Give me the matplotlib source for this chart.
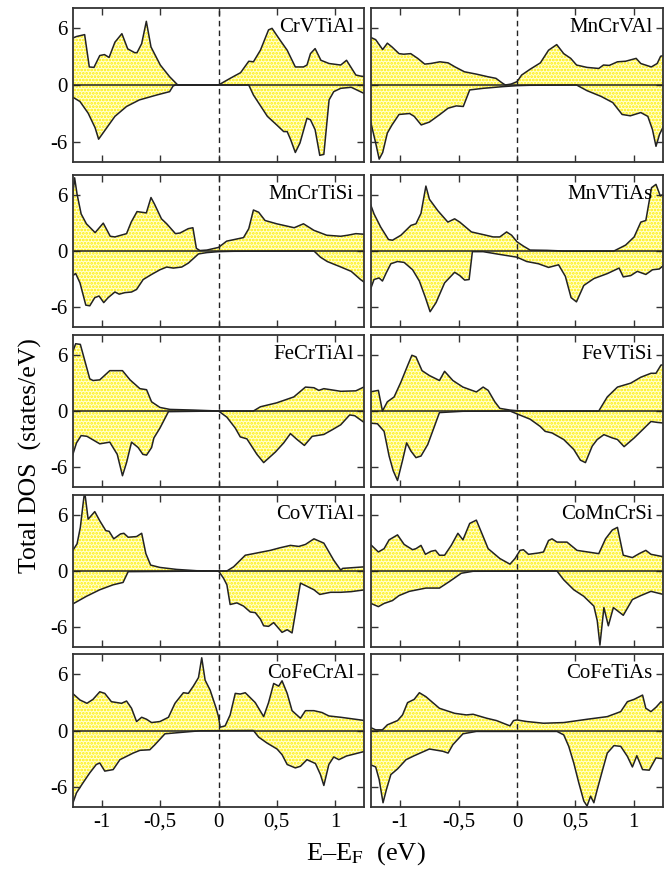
import matplotlib
matplotlib.use('Agg')
import matplotlib.pyplot as plt
import numpy as np

# spin-up / spin-down total DOS: (E-EF [eV], DOS [states/eV])
crvtial_up = [(-1.26, 4.9), (-1.22, 5.1), (-1.15, 5.3), (-1.11, 1.9), (-1.07, 1.85), (-1.02, 3.1),
              (-0.98, 3.2), (-0.94, 2.9), (-0.89, 4.5), (-0.83, 5.4), (-0.78, 3.8), (-0.72, 3.4),
              (-0.70, 3.4), (-0.66, 4.35), (-0.62, 6.7), (-0.58, 4.0), (-0.50, 2.1), (-0.42, 0.87),
              (-0.35, 0.0), (0.0, 0.0), (0.10, 0.7), (0.19, 1.3), (0.26, 2.5), (0.30, 2.44),
              (0.36, 3.66), (0.43, 5.8), (0.46, 5.96), (0.53, 4.7), (0.59, 3.66), (0.66, 1.9),
              (0.73, 1.9), (0.76, 2.1), (0.79, 3.3), (0.83, 3.83), (0.88, 2.6), (0.95, 2.26),
              (1.05, 2.1), (1.10, 2.6), (1.18, 1.05), (1.22, 0.94), (1.26, 0.87)]
crvtial_dn = [(-1.26, -1.22), (-1.19, -1.74), (-1.12, -2.96), (-1.06, -4.5), (-1.03, -5.7),
              (-0.96, -4.5), (-0.89, -3.3), (-0.79, -2.26), (-0.68, -1.57), (-0.53, -1.05),
              (-0.42, -0.7), (-0.39, -0.1), (-0.37, 0.0), (0.26, 0.0), (0.30, -1.05), (0.42, -3.3),
              (0.50, -4.2), (0.56, -4.9), (0.59, -4.9), (0.62, -5.75), (0.66, -7.1), (0.70, -6.1),
              (0.76, -3.5), (0.79, -3.66), (0.83, -4.7), (0.87, -7.4), (0.905, -7.3), (0.95, -1.57),
              (0.99, -0.7), (1.05, -0.35), (1.14, -0.24), (1.26, -0.94)]

mncrval_up = [(-1.26, 5.05), (-1.21, 4.77), (-1.15, 3.73), (-1.11, 4.4), (-1.07, 4.0), (-1.01, 3.3),
              (-0.97, 3.24), (-0.91, 3.3), (-0.85, 2.8), (-0.79, 2.2), (-0.74, 2.26), (-0.66, 2.44),
              (-0.59, 2.33), (-0.53, 1.9), (-0.45, 1.39), (-0.35, 1.15), (-0.25, 0.87), (-0.18, 0.7),
              (-0.13, 0.24), (-0.10, 0.0), (-0.05, 0.1), (0.0, 0.35), (0.04, 1.05), (0.11, 1.64),
              (0.20, 2.33), (0.27, 3.66), (0.34, 4.25), (0.40, 3.3), (0.46, 2.8), (0.51, 2.1),
              (0.60, 1.85), (0.70, 1.74), (0.74, 2.1), (0.79, 2.06), (0.86, 2.44), (0.93, 2.5),
              (1.02, 2.8), (1.06, 2.26), (1.15, 1.9), (1.20, 2.26), (1.23, 3.03), (1.26, 3.1)]
mncrval_dn = [(-1.26, -3.5), (-1.21, -6.1), (-1.18, -7.8), (-1.15, -7.1), (-1.11, -5.05),
              (-1.07, -4.2), (-1.01, -3.1), (-0.92, -3.0), (-0.88, -3.3), (-0.82, -4.2),
              (-0.75, -3.9), (-0.66, -3.1), (-0.59, -2.44), (-0.52, -2.2), (-0.46, -2.26),
              (-0.405, -0.52), (-0.29, -0.35), (-0.12, -0.17), (0.0, -0.07), (0.11, -0.03),
              (0.51, 0.0), (0.60, -0.6), (0.72, -1.2), (0.82, -1.85), (0.90, -3.1), (0.97, -3.24),
              (1.06, -2.9), (1.12, -3.3), (1.16, -4.7), (1.19, -6.45), (1.22, -5.2), (1.26, -4.2)]

mncrtisi_up = [(-1.26, 5.2), (-1.236, 7.8), (-1.215, 6.05), (-1.18, 3.95), (-1.135, 2.9),
               (-1.06, 1.96), (-0.99, 2.97), (-0.93, 1.57), (-0.89, 1.5), (-0.79, 1.85),
               (-0.75, 3.08), (-0.70, 4.2), (-0.62, 4.06), (-0.58, 5.7), (-0.55, 5.0), (-0.49, 3.43),
               (-0.445, 2.9), (-0.37, 1.85), (-0.33, 1.92), (-0.26, 2.38), (-0.22, 2.48),
               (-0.19, 0.28), (-0.16, 0.05), (-0.10, 0.1), (0.0, 0.38), (0.07, 1.05), (0.215, 1.43),
               (0.26, 2.38), (0.30, 4.37), (0.345, 4.13), (0.40, 3.25), (0.50, 2.9), (0.65, 2.48),
               (0.73, 2.9), (0.82, 2.2), (0.93, 1.68), (1.05, 1.57), (1.11, 1.68), (1.18, 1.85),
               (1.26, 1.78)]
mncrtisi_dn = [(-1.26, -2.7), (-1.227, -2.4), (-1.19, -3.4), (-1.14, -5.77), (-1.106, -5.84),
               (-1.063, -4.97), (-1.026, -4.8), (-0.986, -5.5), (-0.948, -4.97), (-0.89, -4.37),
               (-0.853, -4.6), (-0.805, -4.44), (-0.747, -4.37), (-0.704, -4.1), (-0.647, -3.04),
               (-0.575, -2.5), (-0.503, -2.0), (-0.445, -1.71), (-0.388, -1.82), (-0.316, -1.71),
               (-0.259, -1.29), (-0.172, -0.31), (-0.10, -0.17), (0.0, -0.07), (0.13, -0.03),
               (0.82, 0.0), (0.876, -0.66), (0.934, -1.12), (1.05, -1.7), (1.14, -2.17),
               (1.22, -3.04), (1.26, -3.4)]

mnvtias_up = [(-1.26, 5.17), (-1.224, 3.95), (-1.167, 2.55), (-1.10, 1.22), (-1.066, 1.15),
              (-0.994, 1.68), (-0.908, 2.73), (-0.865, 2.9), (-0.822, 4.02), (-0.78, 6.92),
              (-0.75, 5.52), (-0.678, 4.3), (-0.592, 3.08), (-0.534, 3.43), (-0.49, 3.08),
              (-0.39, 2.03), (-0.29, 1.75), (-0.204, 1.5), (-0.147, 1.5), (-0.089, 2.03),
              (-0.046, 1.68), (0.0, 0.98), (0.055, 0.52), (0.112, 0.1), (0.256, 0.07), (0.40, 0.0),
              (0.83, 0.0), (0.93, 0.63), (1.003, 1.5), (1.06, 3.08), (1.103, 3.25), (1.152, 6.75),
              (1.19, 7.1), (1.227, 5.87), (1.26, 6.1)]
mnvtias_dn = [(-1.26, -4.27), (-1.224, -3.04), (-1.181, -2.87), (-1.152, -3.2), (-1.12, -2.34),
              (-1.08, -1.36), (-1.023, -1.12), (-0.966, -1.22), (-0.894, -2.0), (-0.836, -3.2),
              (-0.784, -4.97), (-0.744, -6.47), (-0.693, -5.5), (-0.62, -3.4), (-0.534, -2.27),
              (-0.49, -2.62), (-0.448, -3.1), (-0.41, -3.04), (-0.382, -0.07), (-0.29, -0.07),
              (-0.175, -0.31), (0.0, -0.66), (0.083, -1.12), (0.184, -1.36), (0.27, -1.75),
              (0.356, -1.47), (0.414, -2.7), (0.463, -4.97), (0.509, -5.42), (0.572, -3.67),
              (0.658, -2.94), (0.773, -2.41), (0.874, -1.82), (0.91, -2.76), (0.974, -2.62),
              (1.03, -2.17), (1.103, -2.5), (1.16, -2.0), (1.218, -1.92), (1.26, -1.47)]

fecrtial_up = [(-1.26, 6.05), (-1.227, 7.17), (-1.187, 7.1), (-1.106, 3.43), (-1.078, 3.25),
               (-1.02, 3.32), (-0.934, 4.3), (-0.825, 4.3), (-0.76, 3.32), (-0.675, 2.38),
               (-0.618, 2.27), (-0.575, 0.98), (-0.503, 0.38), (-0.417, 0.17), (-0.216, 0.1),
               (0.0, 0.0), (0.30, 0.0), (0.36, 0.45), (0.50, 0.87), (0.647, 1.5), (0.747, 2.55),
               (0.82, 2.48), (0.862, 2.2), (0.905, 2.38), (0.963, 2.27), (1.05, 2.1), (1.18, 2.15),
               (1.26, 2.62)]
fecrtial_dn = [(-1.26, -4.97), (-1.22, -3.4), (-1.18, -2.62), (-1.13, -2.7), (-1.02, -3.5),
               (-0.934, -3.32), (-0.87, -4.62), (-0.825, -6.9), (-0.79, -5.5), (-0.747, -3.32),
               (-0.69, -3.9), (-0.65, -4.62), (-0.618, -4.7), (-0.575, -3.9), (-0.555, -2.87),
               (-0.503, -1.82), (-0.43, -0.07), (0.0, 0.0), (0.072, -0.66), (0.144, -1.82),
               (0.187, -2.76), (0.244, -2.97), (0.33, -4.62), (0.388, -5.5), (0.489, -4.37),
               (0.56, -3.4), (0.618, -2.41), (0.675, -3.04), (0.738, -3.67), (0.805, -2.7),
               (0.905, -2.5), (0.977, -2.0), (1.05, -1.47), (1.127, -0.42), (1.17, -0.5),
               (1.26, -1.3)]

fevtisi_up = [(-1.26, 2.03), (-1.187, 2.2), (-1.152, 0.0), (-1.11, 0.98), (-1.052, 1.5),
              (-0.994, 3.08), (-0.937, 4.83), (-0.90, 5.94), (-0.865, 5.77), (-0.813, 4.3),
              (-0.75, 3.78), (-0.664, 3.25), (-0.62, 4.23), (-0.549, 3.25), (-0.463, 2.55),
              (-0.348, 2.03), (-0.29, 2.55), (-0.247, 2.2), (-0.19, 0.98), (-0.147, 0.28),
              (-0.06, 0.1), (0.0, 0.03), (0.14, 0.0), (0.70, 0.0), (0.773, 1.5), (0.86, 2.55),
              (0.974, 2.97), (1.06, 3.6), (1.147, 4.02), (1.19, 4.02), (1.233, 4.9), (1.26, 4.9)]
fevtisi_dn = [(-1.26, -1.29), (-1.195, -1.36), (-1.138, -2.17), (-1.095, -4.8), (-1.06, -6.36),
              (-1.023, -7.41), (-0.98, -5.27), (-0.945, -3.4), (-0.908, -4.27), (-0.865, -4.97),
              (-0.822, -4.8), (-0.764, -3.57), (-0.707, -1.64), (-0.664, -0.17), (-0.463, -0.03),
              (-0.06, 0.0), (0.0, -0.31), (0.112, -0.87), (0.198, -1.64), (0.241, -2.17),
              (0.30, -2.34), (0.40, -3.04), (0.486, -4.1), (0.543, -5.24), (0.586, -5.5),
              (0.644, -3.74), (0.687, -3.04), (0.744, -2.52), (0.816, -2.87), (0.86, -3.04),
              (0.917, -3.8), (1.003, -2.87), (1.075, -2.0), (1.147, -1.12), (1.204, -1.22),
              (1.26, -1.29)]

covtial_up = [(-1.26, 2.03), (-1.215, 2.9), (-1.187, 4.65), (-1.164, 7.1), (-1.15, 8.5),
              (-1.12, 5.52), (-1.063, 6.33), (-1.02, 5.35), (-0.968, 4.3), (-0.94, 4.23),
              (-0.90, 3.43), (-0.842, 3.95), (-0.813, 4.02), (-0.776, 3.6), (-0.704, 3.67),
              (-0.66, 4.02), (-0.624, 1.85), (-0.583, 0.63), (-0.503, 0.38), (-0.36, 0.17),
              (-0.187, 0.03), (0.0, 0.0), (0.072, 0.0), (0.13, 0.45), (0.23, 1.68), (0.33, 1.92),
              (0.445, 2.2), (0.53, 2.48), (0.618, 2.73), (0.69, 2.62), (0.747, 2.83), (0.82, 3.43),
              (0.905, 2.97), (0.99, 1.15), (1.05, 0.1), (1.067, 0.28), (1.26, 0.45)]
covtial_dn = [(-1.26, -3.57), (-1.135, -2.7), (-1.02, -2.0), (-0.905, -1.47), (-0.82, -1.22),
              (-0.776, -0.07), (0.0, 0.0), (0.043, -0.77), (0.072, -1.47), (0.10, -3.57),
              (0.158, -3.4), (0.215, -3.74), (0.273, -4.37), (0.316, -4.44), (0.36, -5.13),
              (0.388, -5.84), (0.43, -5.9), (0.474, -5.5), (0.546, -6.54), (0.59, -6.26),
              (0.632, -6.6), (0.704, -1.29), (0.82, -2.0), (0.87, -2.5), (0.963, -2.27),
              (1.05, -2.27), (1.14, -2.2), (1.26, -2.0)]

comncrsi_up = [(-1.26, 2.9), (-1.187, 2.03), (-1.138, 2.38), (-1.095, 3.32), (-1.023, 3.85),
               (-0.966, 2.83), (-0.894, 2.27), (-0.865, 2.38), (-0.822, 2.73), (-0.784, 1.78),
               (-0.736, 2.1), (-0.698, 2.2), (-0.664, 1.68), (-0.62, 1.68), (-0.563, 2.73),
               (-0.506, 4.02), (-0.463, 3.32), (-0.405, 5.07), (-0.348, 5.42), (-0.305, 4.13),
               (-0.247, 2.38), (-0.147, 1.33), (-0.06, 0.73), (-0.017, 1.33), (0.026, 2.2),
               (0.055, 2.27), (0.098, 1.78), (0.184, 1.92), (0.227, 2.03), (0.27, 3.25),
               (0.30, 3.43), (0.342, 3.08), (0.428, 3.08), (0.514, 2.2), (0.70, 1.85),
               (0.758, 3.43), (0.816, 4.37), (0.86, 4.65), (0.91, 1.68), (0.988, 1.43),
               (1.046, 1.85), (1.103, 2.2), (1.147, 1.78), (1.26, 1.5)]
comncrsi_dn = [(-1.26, -3.4), (-1.187, -3.8), (-1.138, -3.46), (-1.066, -3.15), (-1.01, -2.62),
               (-0.922, -2.17), (-0.78, -1.82), (-0.664, -1.82), (-0.578, -1.12), (-0.477, -0.24),
               (-0.376, -0.03), (0.342, 0.0), (0.40, -0.94), (0.486, -2.0), (0.572, -2.7),
               (0.658, -3.74), (0.687, -5.3), (0.71, -7.9), (0.744, -3.9), (0.782, -5.84),
               (0.825, -3.9), (0.91, -4.72), (0.988, -3.04), (1.06, -2.62), (1.147, -2.17),
               (1.26, -2.52)]

cofecral_up = [(-1.26, 4.0), (-1.19, 3.23), (-1.13, 2.88), (-1.078, 3.3), (-1.02, 4.1),
               (-0.977, 3.93), (-0.92, 3.05), (-0.833, 2.88), (-0.79, 3.12), (-0.747, 2.35),
               (-0.704, 0.95), (-0.66, 1.4), (-0.618, 1.19), (-0.575, 0.84), (-0.503, 0.95),
               (-0.43, 1.4), (-0.374, 2.88), (-0.302, 4.0), (-0.259, 3.93), (-0.216, 4.7),
               (-0.172, 5.6), (-0.144, 7.7), (-0.115, 5.33), (-0.072, 4.28), (-0.02, 2.35),
               (0.0, 1.47), (0.014, 0.35), (0.057, 0.49), (0.10, 1.65), (0.144, 3.93),
               (0.187, 3.86), (0.23, 4.0), (0.316, 2.95), (0.388, 1.47), (0.43, 2.95),
               (0.474, 4.98), (0.517, 4.7), (0.546, 5.26), (0.59, 3.93), (0.632, 2.1),
               (0.704, 1.3), (0.747, 2.1), (0.82, 2.1), (0.89, 1.9), (0.948, 1.54), (1.05, 1.4),
               (1.26, 1.05)]
cofecral_dn = [(-1.26, -8.0), (-1.22, -6.6), (-1.164, -5.54), (-1.106, -4.49), (-1.05, -3.6),
               (-1.02, -3.44), (-0.977, -4.3), (-0.905, -4.14), (-0.847, -3.09), (-0.733, -2.39),
               (-0.675, -2.1), (-0.59, -2.04), (-0.546, -1.5), (-0.46, -0.35), (-0.33, -0.21),
               (-0.158, -0.03), (0.30, 0.0), (0.345, -0.7), (0.417, -1.33), (0.503, -1.96),
               (0.546, -2.56), (0.59, -3.6), (0.66, -3.96), (0.704, -3.79), (0.76, -3.09),
               (0.833, -3.5), (0.876, -4.67), (0.905, -5.82), (0.948, -3.6), (0.99, -2.8),
               (1.034, -3.09), (1.10, -2.7), (1.26, -2.2)]

cofetias_up = [(-1.26, 0.35), (-1.21, 0.07), (-1.152, 0.07), (-1.11, 0.6), (-1.023, 1.05),
               (-0.98, 1.65), (-0.937, 2.95), (-0.88, 3.3), (-0.836, 4.0), (-0.78, 3.58),
               (-0.664, 2.35), (-0.534, 1.82), (-0.434, 1.65), (-0.376, 1.72), (-0.26, 1.3),
               (-0.175, 1.05), (-0.118, 0.77), (-0.06, 0.49), (-0.03, 1.05), (0.0, 1.12),
               (0.083, 0.95), (0.227, 0.77), (0.40, 0.84), (0.60, 1.19), (0.773, 1.47),
               (0.888, 2.0), (0.945, 3.05), (1.003, 3.3), (1.075, 3.75), (1.103, 2.35),
               (1.147, 2.0), (1.19, 2.46), (1.233, 3.05), (1.26, 2.8)]
cofetias_dn = [(-1.26, -3.6), (-1.21, -3.86), (-1.18, -5.2), (-1.147, -7.65), (-1.118, -6.25),
               (-1.08, -4.67), (-1.023, -4.07), (-0.95, -3.09), (-0.88, -2.67), (-0.75, -1.96),
               (-0.635, -2.2), (-0.59, -2.39), (-0.549, -1.5), (-0.463, -0.35), (-0.348, -0.1),
               (0.342, -0.1), (0.40, -0.46), (0.443, -1.68), (0.486, -3.44), (0.529, -5.54),
               (0.572, -7.47), (0.60, -8.0), (0.63, -6.95), (0.658, -7.65), (0.687, -6.25),
               (0.73, -4.3), (0.773, -2.39), (0.83, -1.6), (0.888, -1.68), (0.945, -2.74),
               (0.988, -3.86), (1.026, -2.67), (1.075, -4.14), (1.132, -4.2), (1.19, -2.9),
               (1.26, -3.0)]

names = ['CrVTiAl', 'MnCrVAl', 'MnCrTiSi', 'MnVTiAs', 'FeCrTiAl',
         'FeVTiSi', 'CoVTiAl', 'CoMnCrSi', 'CoFeCrAl', 'CoFeTiAs']
ups = [crvtial_up, mncrval_up, mncrtisi_up, mnvtias_up, fecrtial_up,
       fevtisi_up, covtial_up, comncrsi_up, cofecral_up, cofetias_up]
dns = [crvtial_dn, mncrval_dn, mncrtisi_dn, mnvtias_dn, fecrtial_dn,
       fevtisi_dn, covtial_dn, comncrsi_dn, cofecral_dn, cofetias_dn]

xticks = [-1, -0.5, 0, 0.5, 1]
xticklabels = ['-1', '-0,5', '0', '0,5', '1']
yticks = [-6, 0, 6]
yticklabels = ['-6', '0', '6']

plt.rcParams['font.family'] = ['Liberation Serif', 'DejaVu Serif']
plt.rcParams['mathtext.fontset'] = 'stix'
plt.rcParams['hatch.linewidth'] = 1.3
plt.rcParams['hatch.color'] = '#ffee00'

W, H = 667, 873
fig = plt.figure(figsize=(W / 100, H / 100), dpi=100)

col_left = [73, 371]
col_w = [291, 292]
row_top = [8, 175, 335, 495, 654]
row_bot = [162, 327, 487, 647, 807]

for k, name in enumerate(names):
    r, c = divmod(k, 2)
    ax = fig.add_axes([col_left[c] / W, 1 - row_bot[r] / H,
                       col_w[c] / W, (row_bot[r] - row_top[r]) / H])
    for data in (ups[k], dns[k]):
        d = np.array(data)
        ax.fill_between(d[:, 0], 0, d[:, 1], facecolor='#ffffd2', hatch='.....',
                        edgecolor='#ffee00', linewidth=0)
        ax.plot(d[:, 0], d[:, 1], color='#222222', lw=1.1)
    ax.axhline(0, color='#222222', lw=1.1)
    ax.axvline(0, color='#222222', lw=1.0, ls=(0, (4, 3)))
    ax.set_xlim(-1.25, 1.25)
    ax.set_ylim(-8.1, 8.1)
    ax.set_xticks(xticks)
    ax.set_yticks(yticks)
    ax.tick_params(direction='in', top=True, right=True, length=5, width=1,
                   color='#333333', labelsize=15, pad=4)
    if c == 0:
        ax.set_yticklabels(yticklabels)
    else:
        ax.set_yticklabels([])
    if r == 4:
        ax.set_xticklabels(xticklabels)
    else:
        ax.set_xticklabels([])
    for s in ax.spines.values():
        s.set_color('#333333')
        s.set_linewidth(1.3)
    ax.text(0.965, 6.0, name, transform=ax.get_yaxis_transform(),
            ha='right', va='center', fontsize=15)

fig.text(0.045, 0.478, 'Total DOS  (states/eV)', rotation=90, ha='center', va='center',
         fontsize=18.5)
fig.text(0.548, 0.022, 'E\u2013E$_\\mathrm{F}$  (eV)', ha='center', va='center', fontsize=19)

fig.savefig('out.png', dpi=100)
